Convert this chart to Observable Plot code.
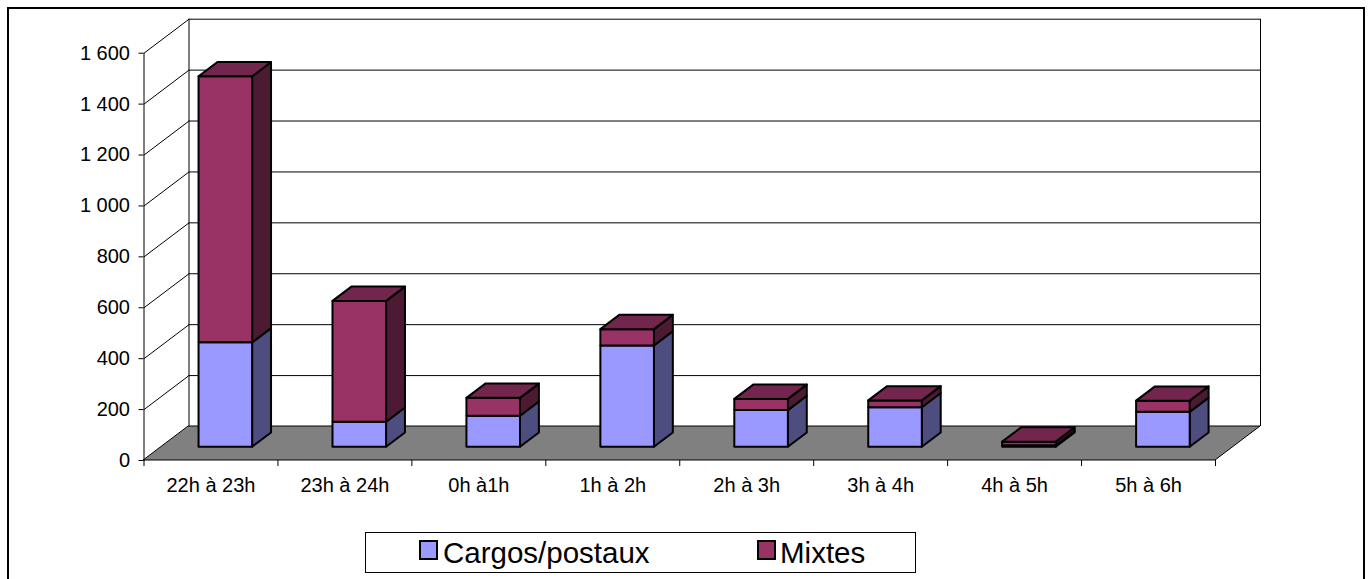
<!DOCTYPE html>
<html>
<head>
<meta charset="utf-8">
<script src="https://cdn.jsdelivr.net/npm/d3@7"></script>
<script src="https://cdn.jsdelivr.net/npm/@observablehq/plot@0.6"></script>
<style>
  html, body { margin: 0; padding: 0; background: #fff; overflow: hidden; }
  body { width: 1368px; height: 579px; position: relative; font-family: Arial, "Liberation Sans", sans-serif; }
  #chart { position: absolute; left: 0; top: 0; }
  #frame { position: absolute; left: 7px; top: 7px; width: 1354px; height: 640px; border: 2px solid #000; background: transparent; pointer-events: none; }
  #legend { position: absolute; left: 365px; top: 532px; width: 549px; height: 39px; border: 1px solid #000; background: #fff; }
  .sw { position: absolute; top: 7px; width: 15px; height: 16px; border: 2px solid #000; }
  .lt { position: absolute; top: 5px; font-size: 29.5px; line-height: 1; color: #000; white-space: nowrap; }
</style>
</head>
<body>
<div id="chart"></div>
<div id="frame"></div>
<div id="legend"></div>
<script>
// ---------- data ----------
const categories = ["22h à 23h", "23h à 24h", "0h à1h", "1h à 2h", "2h à 3h", "3h à 4h", "4h à 5h", "5h à 6h"];
const cargos = [410, 98, 122, 398, 144, 155, 6, 137];
const mixtes = [1045, 475, 70, 64, 44, 27, 14, 44];
const seriesNames = ["Cargos/postaux", "Mixtes"];
const yTicks = [0, 200, 400, 600, 800, 1000, 1200, 1400, 1600];

// ---------- styles ----------
const faceColors = {
  "Cargos/postaux": {front: "#9999FF", side: "#4D4D80", top: "#7373BF"},
  "Mixtes": {front: "#993366", side: "#4D1A33", top: "#73264D"}
};

// ---------- layout ----------
const W = 1368, H = 500, mL = 143.5, mR = 153, mT = 52.7, mB = 40;
const yMax = 1600;
const xUnit = (W - mL - mR) / categories.length;   // px per category
const yUnit = (H - mT - mB) / yMax;                 // px per value unit
const DX = 45 / xUnit, DY = 34 / yUnit;             // oblique depth of the box (data units)
const BAR_L = 0.28, BAR_R = 0.68, Z0 = 0.39, Z1 = 0.81;

const P = (x, v, z) => [x + z * DX, v + z * DY];

// build the faces table from the series
const faces = [];
function quad(id, fill, lowA, upA, lowB, upB) {
  faces.push({id, fill, x1: lowA[0], y1: lowA[1], x2: upA[0], y2: upA[1]});
  faces.push({id, fill, x1: lowB[0], y1: lowB[1], x2: upB[0], y2: upB[1]});
}
categories.forEach((c, i) => {
  const L = i + BAR_L, R = i + BAR_R;
  const segs = [
    {name: seriesNames[0], b: 0, t: cargos[i]},
    {name: seriesNames[1], b: cargos[i], t: cargos[i] + mixtes[i]}
  ];
  segs.forEach((s, k) => {
    const col = faceColors[s.name];
    quad(`${i}-${k}-side`, col.side, P(R, s.b, Z0), P(R, s.t, Z0), P(R, s.b, Z1), P(R, s.t, Z1));
    quad(`${i}-${k}-front`, col.front, P(L, s.b, Z0), P(L, s.t, Z0), P(R, s.b, Z0), P(R, s.t, Z0));
    if (k === segs.length - 1) {
      quad(`${i}-${k}-top`, col.top, P(L, s.t, Z0), P(L, s.t, Z1), P(R, s.t, Z0), P(R, s.t, Z1));
    }
  });
});

const nCat = categories.length;
const floor = [
  {x1: 0, y1: 0, x2: DX, y2: DY},
  {x1: nCat, y1: 0, x2: nCat + DX, y2: DY}
];

const fmt = d3.formatLocale({decimal: ",", thousands: " ", grouping: [3], currency: ["", " €"]}).format(",d");

const chart = Plot.plot({
  width: W,
  height: H,
  marginLeft: mL,
  marginRight: mR,
  marginTop: mT,
  marginBottom: mB,
  style: {fontFamily: "Arial, 'Liberation Sans', sans-serif", background: "transparent", overflow: "visible"},
  x: {type: "linear", domain: [0, nCat]},
  y: {type: "linear", domain: [0, yMax]},
  color: {type: "identity"},
  marks: [
    // back wall gridlines
    Plot.ruleY(yTicks, {y: d => d + DY, x1: DX, x2: nCat + DX, stroke: "#000", strokeWidth: 1}),
    // back wall vertical edges
    Plot.ruleX([DX, nCat + DX], {y1: DY, y2: yMax + DY, stroke: "#000", strokeWidth: 1}),
    // left wall diagonals
    Plot.link(yTicks, {x1: 0, y1: d => d, x2: DX, y2: d => d + DY, stroke: "#000", strokeWidth: 1}),
    // floor
    Plot.area(floor, {x1: "x1", y1: "y1", x2: "x2", y2: "y2", fill: "#808080", stroke: "#000", strokeWidth: 1}),
    // value axis line
    Plot.ruleX([0], {y1: 0, y2: yMax, stroke: "#000", strokeWidth: 1}),
    Plot.axisY(yTicks, {tickSize: 5, tickPadding: 9, fontSize: 20, tickFormat: fmt, stroke: "#000", color: "#000"}),
    // category tick marks
    Plot.axisX(d3.range(nCat + 1), {tickSize: 6, tickFormat: () => "", stroke: "#000"}),
    // category labels
    Plot.axisX(d3.range(nCat).map(i => i + 0.5), {tickSize: 0, tickPadding: 17, fontSize: 20, tickFormat: d => categories[Math.floor(d)], color: "#000"}),
    // bars
    Plot.area(faces, {x1: "x1", y1: "y1", x2: "x2", y2: "y2", z: "id", fill: "fill", stroke: "#000", strokeWidth: 2, strokeLinejoin: "round"})
  ]
});
document.getElementById("chart").appendChild(chart);

// legend
const legend = document.getElementById("legend");
const legendPos = [{sw: 53, tx: 77}, {sw: 391, tx: 414}];
seriesNames.forEach((name, i) => {
  const sw = document.createElement("div");
  sw.className = "sw";
  sw.style.left = legendPos[i].sw + "px";
  sw.style.background = faceColors[name].front;
  legend.appendChild(sw);
  const t = document.createElement("div");
  t.className = "lt";
  t.style.left = legendPos[i].tx + "px";
  t.textContent = name;
  legend.appendChild(t);
});
</script>
</body>
</html>
